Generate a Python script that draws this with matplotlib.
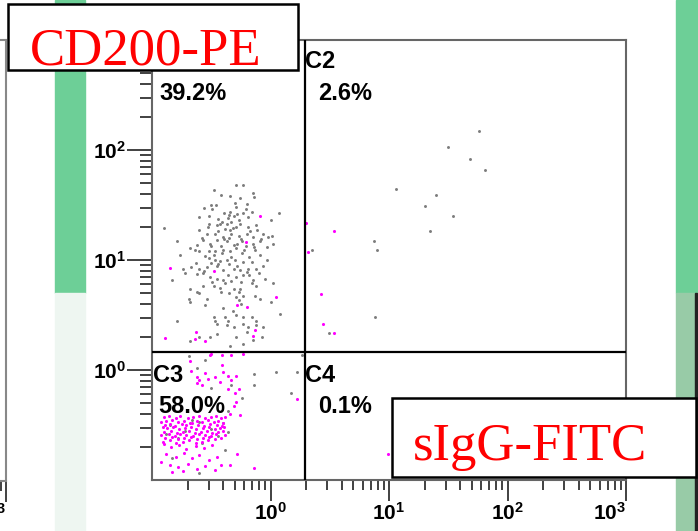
import numpy as np
import matplotlib
matplotlib.use('Agg')
import matplotlib.pyplot as plt
from matplotlib.patches import Rectangle
from matplotlib.ticker import FixedLocator, FixedFormatter, LogLocator, NullFormatter

plt.rcParams['font.family'] = 'Liberation Sans'
plt.rcParams['mathtext.fontset'] = 'custom'
plt.rcParams['mathtext.rm'] = 'Liberation Sans:bold'
plt.rcParams['mathtext.it'] = 'Liberation Sans:bold'
plt.rcParams['mathtext.bf'] = 'Liberation Sans:bold'

W, H = 698, 531

# quadrant gates and labels
x_gate = 1.94
y_gate = 1.46
quad_names = ['C1', 'C2', 'C3', 'C4']
quad_pct = ['39.2%', '2.6%', '58.0%', '0.1%']
x_title = 'sIgG-FITC'
y_title = 'CD200-PE'
decades = [1, 10, 100, 1000]
decade_labels = ['$10^{0}$', '$10^{1}$', '$10^{2}$', '$10^{3}$']

# events, stored as log10 of the fluorescence
c1_grey_x = [-0.48, -0.29, -0.23, -0.15, -0.14, -0.42, -0.34, -0.26, -0.50, -0.46, -0.30, -0.29, -0.20,
             -0.39, -0.34, -0.28, -0.23, -0.16, -0.60, -0.52, -0.44, -0.36, -0.31, -0.19, 0.07,
             -0.90, -0.52, -0.45, -0.43, -0.37, -0.33, -0.29, -0.38, -0.34, -0.26, -0.19, -0.12, -0.00,
             -0.60, -0.54, -0.47, -0.40, -0.33, -0.27, -0.20, -0.15, -0.06, -0.02, 0.01,
             -0.79, -0.68, -0.62, -0.57, -0.51, -0.45, -0.37, -0.31, -0.24, -0.15, -0.09, -0.03, 0.02,
             -0.64, -0.60, -0.52, -0.47, -0.40, -0.34, -0.29, -0.22, -0.13,
             -0.76, -0.52, -0.47, -0.43, -0.37, -0.30, -0.23, -0.16, -0.03,
             -0.74, -0.67, -0.60, -0.54, -0.45, -0.40, -0.31, -0.26, -0.19, -0.12, -0.06,
             -0.83, -0.72, -0.62, -0.57, -0.51, -0.45, -0.36, -0.29, -0.23, -0.15, -0.05, 0.02,
             -0.68, -0.57, -0.48, -0.43, -0.38, -0.31, -0.26, -0.16, -0.12,
             -0.62, -0.60, -0.69, -0.68, -0.54, -0.29, -0.27, -0.23, -0.13, -0.09, -0.00, 0.08,
             -0.48, -0.47, -0.38, -0.36, -0.29, -0.23, -0.16, -0.12,
             -0.45, -0.37, -0.31, -0.23, -0.19, -0.12, -0.06,
             -0.79, -0.68, -0.60, -0.51, -0.45, -0.34, -0.23, -0.15, -0.07, -0.20, -0.29,
             -0.56, -0.49, -0.41, -0.35, -0.27, -0.21, -0.11, -0.53, -0.44, -0.39, -0.32, -0.25, -0.17, -0.08,
             -0.58, -0.50, -0.42, -0.35, -0.28, -0.21, -0.14, -0.55, -0.48, -0.41, -0.33, -0.24, -0.18, -0.09,
             -0.63, -0.50, -0.44, -0.35, -0.28, -0.20, -0.10, -0.56, -0.49, -0.40, -0.33, -0.25, -0.18,
             -0.42, -0.35, -0.27, -0.40, -0.32, -0.55, -0.25]
c1_grey_y = [1.64, 1.68, 1.68, 1.61, 1.57, 1.59, 1.58, 1.56, 1.50, 1.50, 1.52, 1.48, 1.51,
             1.43, 1.44, 1.42, 1.43, 1.44, 1.39, 1.40, 1.37, 1.38, 1.40, 1.39, 1.43,
             1.29, 1.33, 1.32, 1.33, 1.33, 1.35, 1.30, 1.28, 1.27, 1.33, 1.30, 1.32, 1.36,
             1.27, 1.24, 1.24, 1.21, 1.24, 1.22, 1.24, 1.21, 1.24, 1.21, 1.22,
             1.17, 1.11, 1.14, 1.18, 1.15, 1.18, 1.17, 1.14, 1.17, 1.15, 1.17, 1.12, 1.15,
             1.09, 1.08, 1.08, 1.08, 1.09, 1.08, 1.11, 1.09, 1.09,
             1.05, 1.02, 1.00, 0.99, 1.00, 1.00, 0.98, 0.98, 1.00,
             0.92, 0.94, 0.92, 0.94, 0.95, 0.91, 0.92, 0.91, 0.92, 0.92, 0.95,
             0.82, 0.88, 0.87, 0.88, 0.85, 0.83, 0.86, 0.85, 0.86, 0.82, 0.83, 0.79,
             0.74, 0.76, 0.76, 0.75, 0.79, 0.74, 0.74, 0.79, 0.76,
             0.71, 0.70, 0.65, 0.62, 0.65, 0.66, 0.64, 0.67, 0.67, 0.65, 0.62, 0.51,
             0.48, 0.45, 0.48, 0.45, 0.50, 0.48, 0.48, 0.45,
             0.42, 0.41, 0.39, 0.42, 0.39, 0.41, 0.39,
             0.45, 0.26, 0.30, 0.30, 0.33, 0.22, 0.24, 0.27, 0.30, 0.35, 0.30,
             1.47, 1.46, 1.35, 1.41, 1.36, 1.46, 1.27, 1.30, 1.26, 1.19, 1.29, 1.19, 1.26, 1.19,
             1.20, 1.13, 1.13, 1.20, 1.15, 1.13, 1.12, 1.04, 1.05, 1.06, 1.03, 1.06, 1.03, 1.05,
             0.97, 0.97, 0.96, 0.96, 0.95, 0.89, 0.88, 0.90, 0.80, 0.82, 0.81, 0.80, 0.86,
             0.71, 0.70, 0.71, 0.56, 0.54, 0.59, 0.60]
c1_pink_x = [-0.85, -0.89, -0.48, -0.28, -0.20, -0.15, -0.13, -0.64, -0.55, -0.21, -0.09, 0.05, -0.63]
c1_pink_y = [0.93, 0.29, 0.90, 0.59, 0.57, 0.31, 0.36, 0.28, 0.26, 1.16, 1.40, 0.66, 0.35]

c2_grey_x = [0.88, 0.49, 0.35, 0.87, 0.90, 1.35, 1.54, 1.30, 1.40, 1.06, 1.81, 1.68, 1.76, 1.50]
c2_grey_y = [0.48, 0.34, 1.09, 1.17, 1.09, 1.26, 1.40, 1.49, 1.59, 1.65, 1.82, 1.92, 2.17, 2.03]
c2_pink_x = [0.30, 0.54, 0.32, 0.43, 0.44, 0.54]
c2_pink_y = [1.34, 1.26, 1.07, 0.69, 0.42, 0.34]

c3_grey_x = [-0.85, -0.72, -0.60, -0.44, -0.78, -0.50, -0.66, -0.40, -0.88, -0.36,
             -0.58, -0.83, -0.60, -0.38, -0.55, -0.50, -0.33, -0.24, -0.14, -0.14,
             0.05, 0.22, 0.17, 0.27, -0.62, -0.36, -0.69]
c3_grey_y = [-0.50, -0.55, -0.47, -0.60, -0.62, -0.54, -0.45, -0.48, -0.58, -0.56,
             -0.66, -0.80, -0.94, -0.73, 0.09, -0.16, -0.14, -0.25, -0.04, -0.14,
             -0.02, -0.02, -0.21, 0.14, 0.02, -0.37, 0.13]
c3_pink_x = [-0.90, -0.86, -0.80, -0.76, -0.70, -0.65, -0.60, -0.55, -0.50, -0.46, -0.42, -0.38,
             -0.92, -0.88, -0.83, -0.78, -0.73, -0.68, -0.62, -0.58, -0.53, -0.48, -0.44, -0.40,
             -0.89, -0.85, -0.81, -0.75, -0.71, -0.66, -0.61, -0.56, -0.51, -0.45, -0.41,
             -0.91, -0.87, -0.82, -0.77, -0.72, -0.67, -0.63, -0.57, -0.52, -0.47, -0.43, -0.39,
             -0.90, -0.84, -0.79, -0.74, -0.69, -0.64, -0.59, -0.54, -0.49, -0.44, -0.40,
             -0.92, -0.86, -0.81, -0.76, -0.71, -0.65, -0.60, -0.55, -0.50, -0.46, -0.38,
             -0.89, -0.83, -0.78, -0.73, -0.67, -0.62, -0.57, -0.52, -0.47, -0.42,
             -0.91, -0.85, -0.80, -0.74, -0.69, -0.63, -0.58, -0.53,
             -0.90, -0.84, -0.77, -0.71, -0.63, -0.56, -0.49, -0.88, -0.80, -0.73, -0.66, -0.60, -0.52, -0.45,
             -0.92, -0.85, -0.78, -0.70, -0.62, -0.55, -0.47, -0.83, -0.74, -0.42, -0.34, -0.28, -0.14,
             -0.67, -0.62, -0.60, -0.55, -0.53, -0.62, -0.58, -0.47, -0.41, -0.40,
             -0.36, -0.33, -0.29, -0.43, -0.36, -0.30, -0.27, -0.29, -0.31, -0.34,
             -0.26, -0.68, -0.51, -0.41, -0.33, -0.23, -0.50, 0.22]
c3_pink_y = [-0.43, -0.42, -0.44, -0.42, -0.44, -0.43, -0.42, -0.44, -0.43, -0.42, -0.44, -0.43,
             -0.47, -0.46, -0.45, -0.47, -0.46, -0.48, -0.46, -0.47, -0.45, -0.47, -0.46, -0.48,
             -0.50, -0.49, -0.51, -0.49, -0.50, -0.48, -0.50, -0.51, -0.49, -0.50, -0.51,
             -0.52, -0.53, -0.52, -0.54, -0.53, -0.52, -0.54, -0.53, -0.52, -0.54, -0.53, -0.52,
             -0.56, -0.55, -0.57, -0.56, -0.55, -0.57, -0.56, -0.55, -0.57, -0.56, -0.55,
             -0.59, -0.58, -0.60, -0.58, -0.59, -0.60, -0.58, -0.59, -0.60, -0.58, -0.59,
             -0.62, -0.61, -0.63, -0.62, -0.61, -0.63, -0.62, -0.61, -0.63, -0.62,
             -0.65, -0.64, -0.66, -0.65, -0.64, -0.66, -0.65, -0.64,
             -0.67, -0.70, -0.68, -0.72, -0.69, -0.71, -0.68, -0.76, -0.79, -0.75, -0.80, -0.77, -0.82, -0.79,
             -0.84, -0.86, -0.88, -0.85, -0.90, -0.87, -0.91, -0.93, -0.92, -0.86, -0.86, -0.76, -0.89,
             -0.01, -0.06, -0.09, -0.03, -0.08, -0.12, -0.14, -0.06, 0.05, -0.02,
             -0.05, -0.09, -0.05, -0.11, -0.17, -0.21, -0.17, -0.29, -0.33, -0.40,
             -0.41, 0.08, 0.14, 0.14, 0.14, 0.15, 0.15, -0.26]
c4_pink_x = [0.99]
c4_pink_y = [-0.76]

grey_x = 10 ** np.array(c1_grey_x + c2_grey_x + c3_grey_x)
grey_y = 10 ** np.array(c1_grey_y + c2_grey_y + c3_grey_y)
pink_x = 10 ** np.array(c1_pink_x + c2_pink_x + c3_pink_x + c4_pink_x)
pink_y = 10 ** np.array(c1_pink_y + c2_pink_y + c3_pink_y + c4_pink_y)


def px_rect(x0, y0, x1, y1):
    # pixel box (top-left origin) -> figure fraction rect
    return [x0 / W, 1 - y1 / H, (x1 - x0) / W, (y1 - y0) / H]


def add_box(fig, x0, y0, x1, y1, **kw):
    r = px_rect(x0, y0, x1, y1)
    fig.patches.append(Rectangle(r[:2], r[2], r[3], transform=fig.transFigure, **kw))


def style_log_axes(ax, frame='#666666'):
    for s in ax.spines.values():
        s.set_color(frame)
        s.set_linewidth(1.5)
    for axis in (ax.xaxis, ax.yaxis):
        axis.set_major_locator(FixedLocator(decades))
        axis.set_major_formatter(FixedFormatter(decade_labels))
        axis.set_minor_locator(LogLocator(base=10, subs=np.arange(2, 10)))
        axis.set_minor_formatter(NullFormatter())
    ax.tick_params(axis='y', which='major', length=18, width=1.3, pad=1, labelsize=15, colors='#333333', labelcolor='black')
    ax.tick_params(axis='y', which='minor', length=9, width=1.3, colors='#333333')
    ax.tick_params(axis='x', which='major', length=15, width=1.3, pad=1, labelsize=15, colors='#333333', labelcolor='black')
    ax.tick_params(axis='x', which='minor', length=7, width=1.3, colors='#333333')
    # last x label sits inside the axis end
    ax.xaxis.get_major_ticks()[-1].label1.set_horizontalalignment('right')


fig = plt.figure(figsize=(W / 100, H / 100), dpi=100)

# neighbouring plot, only its right edge shows
ax0 = fig.add_axes(px_rect(6.5 - 474, 40, 6.5, 481))
ax0.set_xscale('log')
ax0.set_yscale('log')
ax0.set_xlim(0.1, 1000)
ax0.set_ylim(0.1, 1000)
style_log_axes(ax0, frame='#888888')

ax = fig.add_axes(px_rect(152, 40, 626, 480))
ax.set_xscale('log')
ax.set_yscale('log')
ax.set_xlim(0.1, 1000)
ax.set_ylim(0.1, 1000)
style_log_axes(ax)

ax.scatter(grey_x, grey_y, s=4.5, marker='o', c='#7c7c7c', linewidths=0, zorder=2)
ax.scatter(pink_x, pink_y, s=5, marker='o', c='#ff00ff', linewidths=0, zorder=3)

ax.axvline(x_gate, color='black', lw=1.6, zorder=4)
ax.axhline(y_gate, color='black', lw=1.6, zorder=4)

# quadrant annotations (axes fraction)
lab_kw = dict(transform=ax.transAxes, fontsize=17, fontweight='bold', va='baseline', ha='left', zorder=5)
name_pos = [(0.002, 0.936), (0.323, 0.936), (0.002, 0.223), (0.323, 0.223)]
pct_pos = [(0.0148, 0.864), (0.350, 0.864), (0.0127, 0.152), (0.350, 0.152)]
for name, pct, (nx, ny), (qx, qy) in zip(quad_names, quad_pct, name_pos, pct_pos):
    ax.text(nx, ny, name, **lab_kw)
    ax.text(qx, qy, pct, **lab_kw)

# side bars from the slide background
add_box(fig, 55, 0, 85, 293, color='#6dcf97', zorder=0.5)
add_box(fig, 55, 293, 85, 531, color='#eef6f1', zorder=0.5)
add_box(fig, 676, 0, 698, 293, color='#6dcf97', zorder=0.5)
add_box(fig, 676, 293, 695, 531, color='#98cba7', zorder=0.5)
add_box(fig, 695, 293, 697, 531, color='#222222', zorder=0.5)

# axis title boxes
for (x0, y0, x1, y1), txt, (tx, ty) in [((8, 4, 298, 70), y_title, (30, 65)),
                                        ((392, 398, 696, 477), x_title, (413, 460))]:
    add_box(fig, x0, y0, x1, y1, facecolor='white', edgecolor='black', lw=1.8, zorder=6)
    fig.text(tx / W, 1 - ty / H, txt, color='#ff0000', fontsize=38, family='Liberation Serif',
             va='baseline', ha='left', zorder=7)

fig.savefig('out.png', dpi=100)
